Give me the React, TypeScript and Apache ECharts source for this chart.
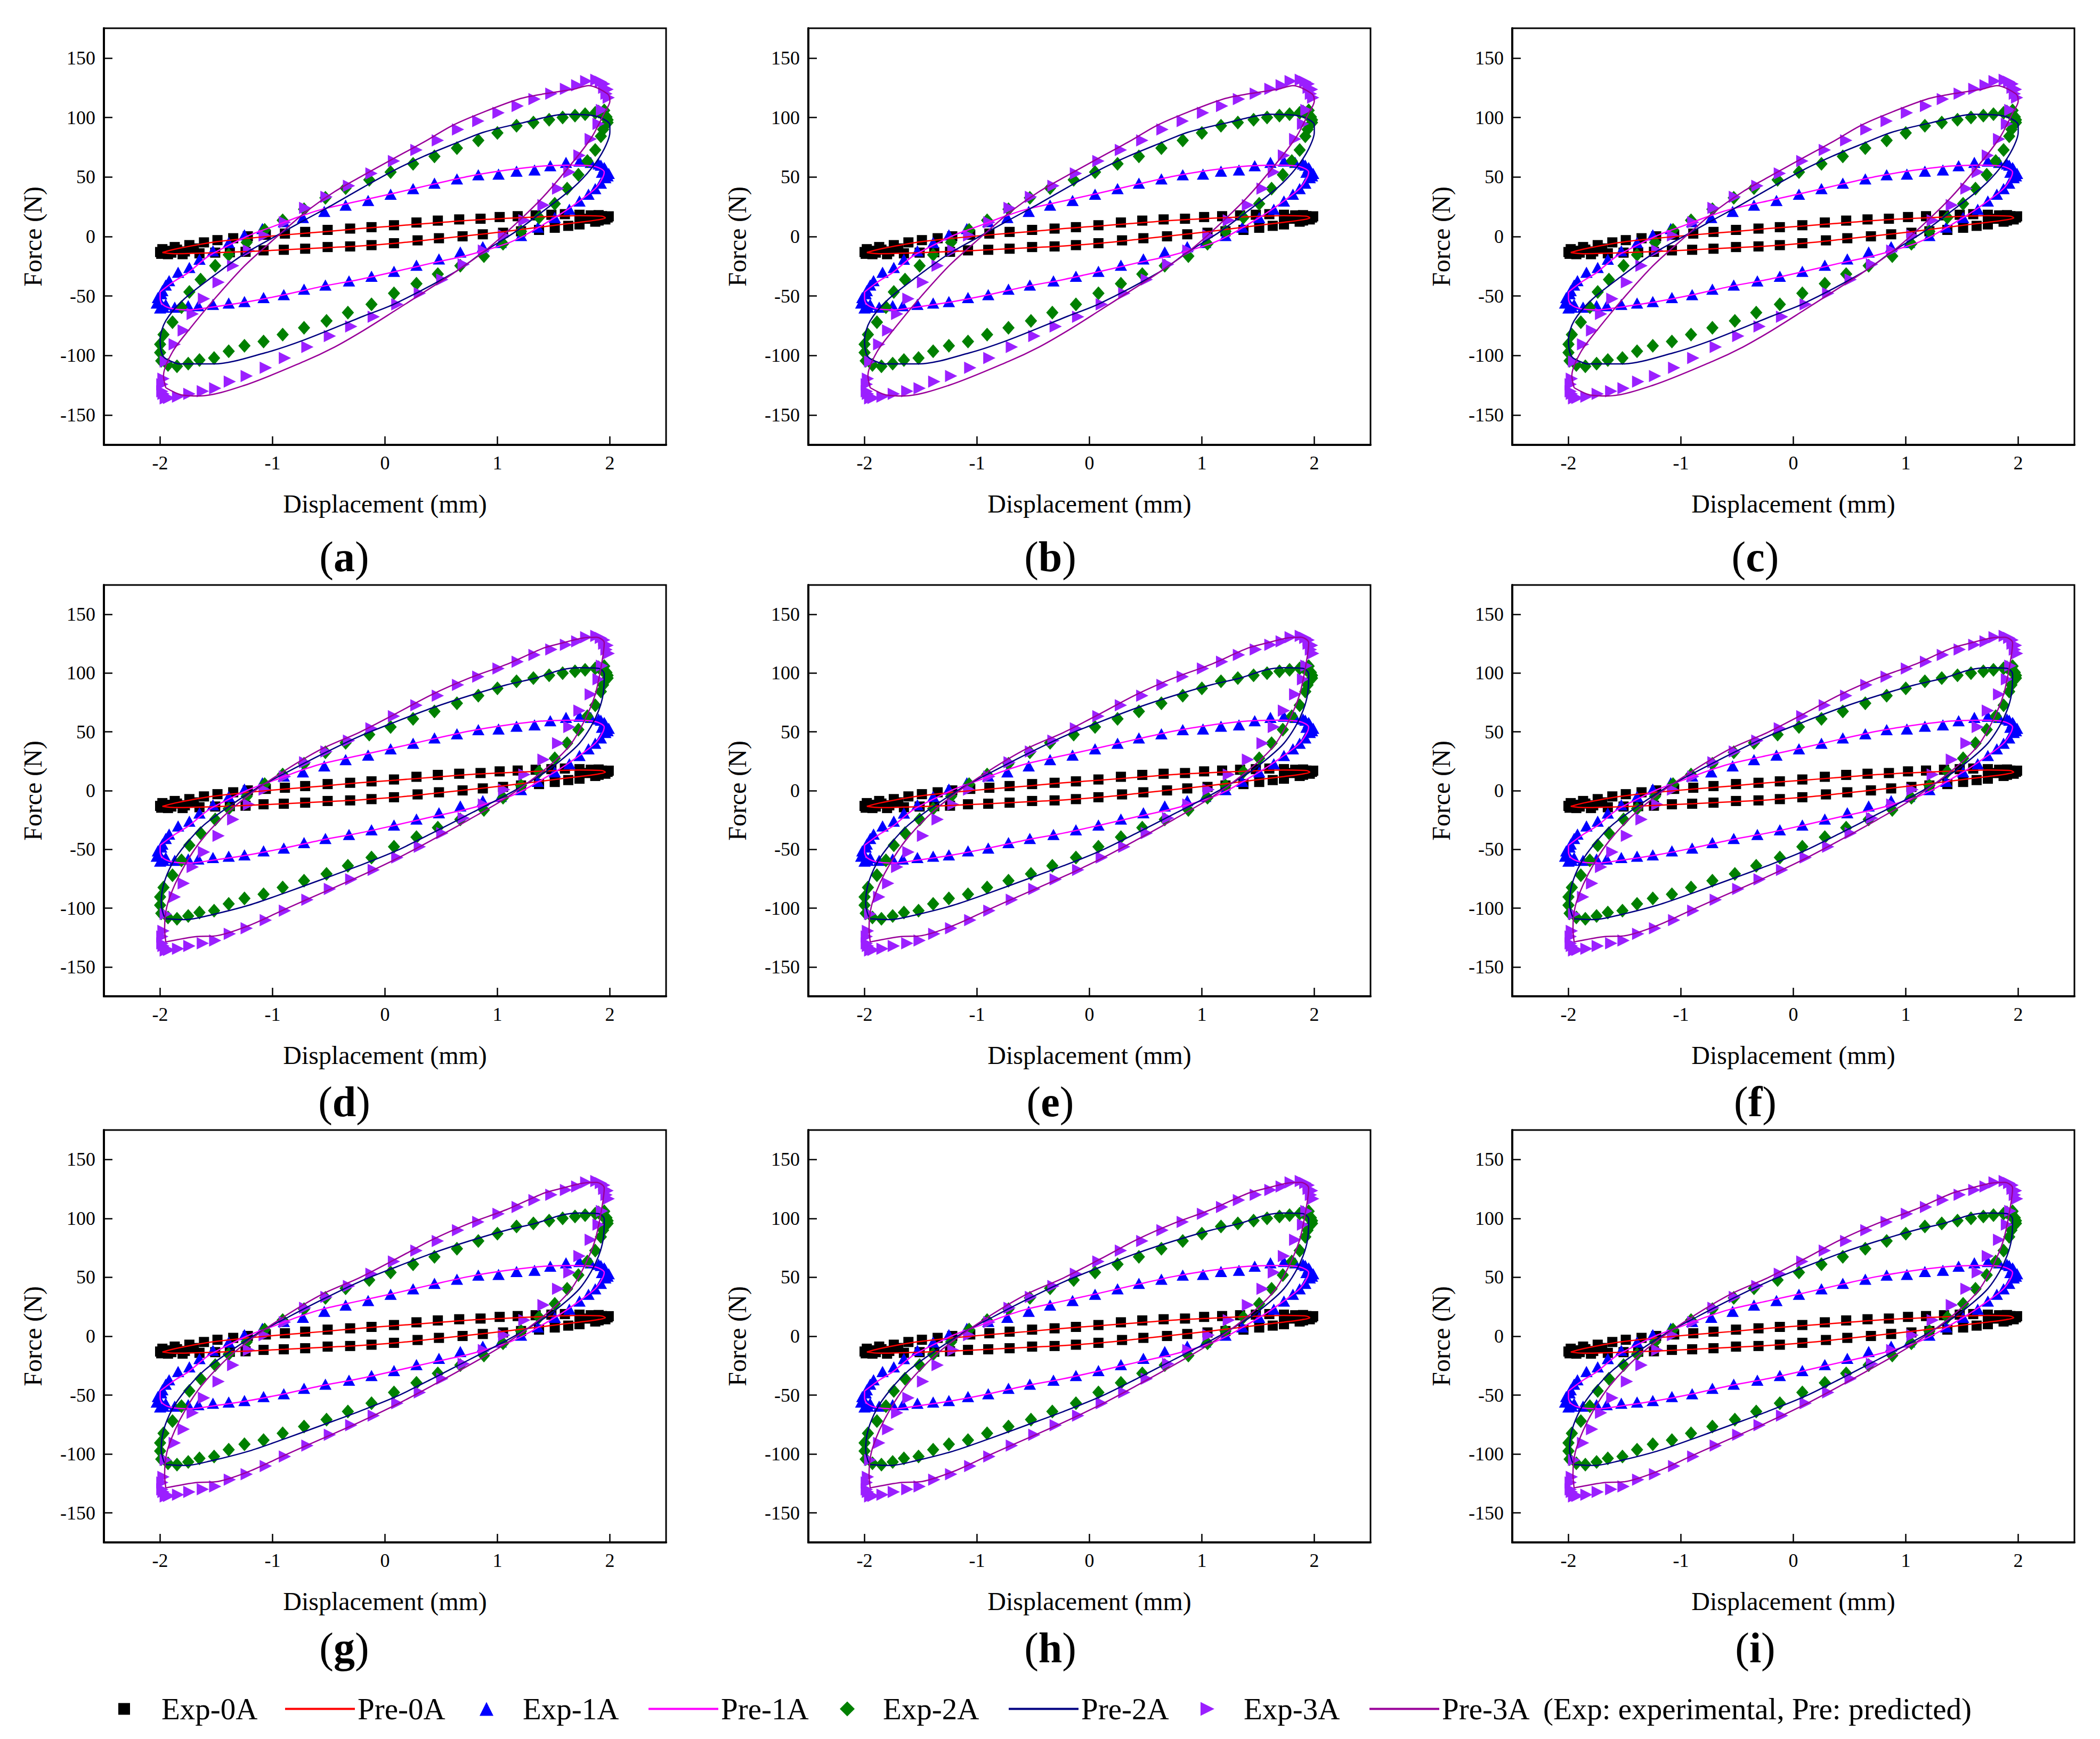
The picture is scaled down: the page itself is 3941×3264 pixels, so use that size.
import React, { useEffect, useRef } from "react";
import * as echarts from "echarts";

const FONT = "'Liberation Serif', 'Times New Roman', serif";

const panelLabels = ["a", "b", "c", "d", "e", "f", "g", "h", "i"];
const xTicks = [-2, -1, 0, 1, 2];
const yTicks = [-150, -100, -50, 0, 50, 100, 150];
const seriesNames = ["Exp-0A", "Pre-0A", "Exp-1A", "Pre-1A", "Exp-2A", "Pre-2A", "Exp-3A", "Pre-3A"];
const legendNote = "(Exp: experimental, Pre: predicted)";

const exp0A = [
  [-2.0, -13], [-1.98, -10.6], [-1.87, -8.8], [-1.74, -7.2], [-1.61, -4.9], [-1.49, -3.0], [-1.35, -1.4],
  [-1.22, 0.2], [-1.06, 1.5], [-0.89, 2.5], [-0.71, 3.9], [-0.51, 5.6], [-0.31, 6.7], [-0.12, 7.9],
  [0.08, 9.5], [0.28, 11.8], [0.47, 13.4], [0.66, 14.4], [0.85, 15.0], [1.02, 16.4], [1.18, 17.1],
  [1.34, 17.8], [1.48, 18.3], [1.6, 18.8], [1.73, 18.3], [1.83, 17.8], [1.93, 17.1], [1.98, 16],
  [1.96, 14.4], [1.87, 12.5], [1.73, 10.2], [1.63, 9.0], [1.51, 7.4], [1.37, 5.6], [1.21, 4.4],
  [1.05, 3.2], [0.87, 1.9], [0.69, 0.2], [0.48, -1.4], [0.29, -3.2], [0.08, -5.6], [-0.12, -7.2],
  [-0.31, -8.3], [-0.51, -8.8], [-0.71, -10.2], [-0.9, -11.1], [-1.08, -11.6], [-1.24, -12.8],
  [-1.38, -13.2], [-1.51, -13.5], [-1.65, -14.1], [-1.8, -14.8], [-1.93, -14.8],
  [-1.95, -12], [-1.9, -13.5], [-1.85, -11], [-1.99, -14.5], [-1.78, -12.5], [-1.7, -10],
  [1.95, 15.5], [1.9, 13.5], [1.9, 18], [1.8, 15], [1.99, 17], [1.85, 16.5],
];

const pre0A = [
  [-1.98, -13.4], [-1.87, -10.6], [-1.54, -4.9], [-1.21, -1.4], [-0.89, 1.4], [-0.56, 3.9], [-0.23, 6.7],
  [0.1, 9.0], [0.42, 11.3], [0.75, 13.7], [1.08, 15.3], [1.41, 16.7], [1.73, 17.6], [1.93, 17.1],
  [1.96, 15.7], [1.87, 13.7], [1.73, 12.0], [1.41, 8.3], [1.08, 4.4], [0.75, 0.9], [0.42, -2.5],
  [0.1, -5.6], [-0.23, -7.9], [-0.56, -9.5], [-0.89, -11.1], [-1.21, -12.5], [-1.54, -13.7],
  [-1.87, -14.4], [-1.98, -13.4],
];

const exp1A = [
  [-2.03, -55.8], [-2.02, -51.2], [-1.98, -45.4], [-1.95, -40.7], [-1.92, -37], [-1.84, -30], [-1.74, -26],
  [-1.65, -19], [-1.53, -12], [-1.39, -5], [-1.25, 1.4], [-1.09, 6.7], [-0.9, 12.5], [-0.73, 16.0],
  [-0.54, 21.1], [-0.35, 26.4], [-0.15, 30.3], [0.05, 35.6], [0.25, 40.3], [0.44, 44.9], [0.64, 48.4],
  [0.83, 51.9], [1.01, 52.5], [1.17, 54.9], [1.33, 56.0], [1.47, 59.5], [1.61, 62.3], [1.73, 63.4],
  [1.83, 62.3], [1.92, 60], [1.96, 56.5], [1.99, 53], [1.96, 49.5], [1.92, 44.9], [1.87, 40.3],
  [1.81, 35.6], [1.73, 29.9], [1.64, 22.9], [1.51, 16.0], [1.36, 7.9], [1.21, 0.9], [1.03, -4.9],
  [0.87, -8.5], [0.67, -13], [0.48, -18.8], [0.28, -24.1], [0.08, -29.2], [-0.12, -33.3], [-0.32, -37.3],
  [-0.53, -40.7], [-0.72, -44.2], [-0.9, -48.8], [-1.08, -51.2], [-1.25, -54.6], [-1.39, -55.8],
  [-1.53, -56.9], [-1.66, -58.1], [-1.75, -58.1], [-1.87, -59.3], [-1.97, -59.3],
  [-2.0, -60], [-1.95, -57], [-1.99, -48], [1.95, 58], [1.98, 51], [1.93, 54], [1.9, 61],
];

const pre1A = [
  [-2.0, -46.5], [-1.87, -37.3], [-1.75, -30.3], [-1.57, -16.4], [-1.41, -8.3], [-1.21, 0.9], [-0.98, 9],
  [-0.75, 17.1], [-0.56, 22.9], [-0.23, 29.9], [0.1, 36.8], [0.42, 43.8], [0.75, 50.7], [1.08, 55.8],
  [1.41, 59.3], [1.7, 60], [1.87, 58.8], [1.95, 54.2], [1.93, 48.4], [1.87, 40.3], [1.73, 29.9],
  [1.57, 19.4], [1.41, 10.2], [1.24, 0.9], [1.08, -6.0], [0.75, -15.3], [0.42, -22.2], [0.1, -29.2],
  [-0.23, -36.1], [-0.56, -41.9], [-0.89, -48.8], [-1.21, -54.6], [-1.54, -59.3], [-1.74, -61.6],
  [-1.9, -60.4], [-1.98, -56.9], [-2.0, -52.3], [-2.0, -46.5],
];

const exp2A = [
  [-2.0, -97.5], [-2.0, -90.5], [-1.97, -82.4], [-1.89, -72], [-1.81, -59.3], [-1.74, -46.5], [-1.64, -36.1],
  [-1.51, -24.5], [-1.39, -15.3], [-1.23, -4.9], [-1.07, 5.6], [-0.91, 13.7], [-0.72, 22.9], [-0.53, 32.6],
  [-0.35, 40.7], [-0.14, 47.7], [0.05, 54.2], [0.25, 61.1], [0.44, 67.4], [0.64, 74.3], [0.83, 80.8],
  [1.0, 87.0], [1.17, 93.1], [1.32, 95.8], [1.46, 98.1], [1.58, 100], [1.69, 101.6], [1.78, 102.8],
  [1.87, 104], [1.93, 102.8], [1.97, 100.5], [1.98, 95.8], [1.94, 90], [1.92, 84.3], [1.87, 72.7],
  [1.8, 63.4], [1.72, 51.9], [1.62, 40.3], [1.51, 27.5], [1.37, 16], [1.21, 4.4], [1.05, -6.0],
  [0.88, -16.4], [0.67, -24.5], [0.47, -31.5], [0.28, -39.6], [0.08, -47.7], [-0.12, -56.9],
  [-0.33, -63.9], [-0.52, -70.8], [-0.72, -76.6], [-0.91, -82.4], [-1.08, -88.2], [-1.25, -91.7],
  [-1.39, -96.3], [-1.52, -102.1], [-1.65, -103.7], [-1.75, -106.7], [-1.85, -109], [-1.93, -107.9],
  [-1.99, -104.4], [1.95, 106], [1.98, 98], [1.9, 105],
];

// Pre-2A as drawn in panels (d)-(i)
const pre2A = [
  [-1.95, -109], [-1.77, -109.7], [-1.54, -105.6], [-1.21, -97.5], [-0.89, -87], [-0.56, -75.5],
  [-0.23, -63.9], [0.1, -51.2], [0.42, -36.1], [0.75, -19.9], [1.08, -3.7], [1.41, 14.8], [1.6, 28.7],
  [1.73, 40.3], [1.83, 54.2], [1.9, 68.1], [1.94, 81.9], [1.95, 99.3], [1.9, 104], [1.73, 104.6],
  [1.57, 102.8], [1.34, 95.8], [1.08, 90], [0.75, 80.8], [0.42, 70.4], [0.1, 58.8], [-0.23, 46.1],
  [-0.56, 31], [-0.89, 14.8], [-1.12, 3.2], [-1.38, -13], [-1.61, -29.2], [-1.77, -45.4], [-1.89, -61.6],
  [-1.97, -80.1], [-1.99, -96.3], [-1.97, -105.6], [-1.95, -109],
];

// Pre-2A as drawn in panels (a)-(c)
const pre2ATop = [
  [-1.84, -107], [-1.52, -107], [-1.07, -97.8], [-0.72, -86.9], [-0.19, -66.8], [0.08, -56.8],
  [0.61, -30.5], [0.88, -12.7], [1.15, 3.4], [1.41, 21.6], [1.68, 41.6], [1.84, 57.7], [1.95, 73.7],
  [2.0, 87.7], [2.0, 93.8], [1.87, 101.3], [1.61, 102.7], [1.23, 95.7], [0.88, 87.7], [0.61, 77.7],
  [0.35, 67.6], [0.08, 55.6], [-0.19, 41.6], [-0.45, 27.5], [-0.72, 13.6], [-0.99, -0.6], [-1.25, -14.5],
  [-1.52, -32.7], [-1.79, -52.8], [-1.95, -70.8], [-2.0, -86.6], [-1.97, -100.9], [-1.84, -107],
];

const exp3A = [
  [-1.98, -124.1], [-1.97, -119.4], [-1.95, -105], [-1.87, -90.5], [-1.79, -78.9], [-1.71, -65],
  [-1.61, -52.3], [-1.48, -38.4], [-1.35, -24.5], [-1.21, -11.8], [-1.07, 0.9], [-0.89, 12.0],
  [-0.71, 24.1], [-0.52, 33.3], [-0.32, 42.6], [-0.12, 53], [0.08, 63.4], [0.28, 72.7], [0.47, 80.8],
  [0.65, 90], [0.83, 97], [1.01, 103.9], [1.18, 109.7], [1.33, 115.5], [1.48, 120.1], [1.61, 124.1],
  [1.71, 127.1], [1.79, 130.6], [1.88, 131.7], [1.95, 128.2], [1.98, 123.6], [1.99, 116.7],
  [1.93, 106.3], [1.9, 94.7], [1.83, 81.9], [1.73, 68.1], [1.64, 54.2], [1.54, 40.3], [1.41, 26.4],
  [1.24, 13.7], [1.06, 0.9], [0.88, -11.8], [0.7, -23.4], [0.51, -36.1], [0.31, -47.7], [0.11, -56.9],
  [-0.1, -67.4], [-0.3, -75.5], [-0.49, -83.6], [-0.69, -92.8], [-0.89, -102.1], [-1.06, -110.2],
  [-1.23, -117.1], [-1.38, -121.8], [-1.51, -127.5], [-1.62, -129.9], [-1.74, -132.2], [-1.84, -134.5],
  [-1.92, -135.6], [-1.97, -132.2], [-1.98, -130], [-1.95, -136], [1.95, 125], [1.97, 120], [1.92, 130],
];

// Pre-3A as drawn in panels (d)-(i)
const pre3A = [
  [-1.95, -128.7], [-1.67, -124.1], [-1.51, -123.6], [-1.21, -114.8], [-0.89, -100.9], [-0.56, -87],
  [-0.23, -73.1], [0.1, -58.1], [0.42, -41.9], [0.75, -24.5], [1.08, -6.0], [1.41, 17.1], [1.64, 38],
  [1.77, 58.8], [1.87, 81.9], [1.93, 109.7], [1.95, 125.9], [1.88, 130.6], [1.76, 129.9], [1.57, 125.5],
  [1.41, 121.3], [1.08, 107.4], [0.75, 95.8], [0.42, 81.9], [0.1, 65.7], [-0.23, 49.5], [-0.56, 35.6],
  [-0.89, 17.1], [-1.21, -3.7], [-1.44, -22.2], [-1.64, -43], [-1.77, -61.6], [-1.87, -80.1],
  [-1.94, -98.6], [-1.96, -117.1], [-1.95, -128.7],
];

// Pre-3A as drawn in panels (a)-(c)
const pre3ATop = [
  [-1.95, -127], [-1.81, -133], [-1.65, -133.9], [-1.25, -125], [-0.72, -104.9], [-0.45, -92.9],
  [-0.19, -78.8], [0.08, -62.8], [0.35, -46.5], [0.61, -30.7], [0.88, -12.7], [1.15, 9.6], [1.41, 33.6],
  [1.68, 63.6], [1.84, 83.7], [1.95, 103.7], [2.0, 113.8], [1.98, 119.8], [1.81, 126.8], [1.68, 123.8],
  [1.41, 119.8], [1.2, 115.8], [0.88, 104.7], [0.61, 93.8], [0.35, 79.6], [0.08, 65.7], [-0.19, 51.6],
  [-0.45, 37.6], [-0.72, 19.5], [-0.99, -2.5], [-1.25, -24.7], [-1.52, -52.8], [-1.73, -76.8],
  [-1.89, -96.9], [-1.97, -116.9], [-1.95, -127],
];

const expData = [exp0A, exp1A, exp2A, exp3A];
const preDataTop = [pre0A, pre1A, pre2ATop, pre3ATop];
const preData = [pre0A, pre1A, pre2A, pre3A];
const expColors = ["#000000", "#0000ff", "#008000", "#9b1fff"];
const preColors = ["#ff0000", "#ff00ff", "#000080", "#990099"];
const expSymbols = ["rect", "triangle", "diamond", "triangle"];
const expSizes: any[] = [19, [23, 21], [23, 26], [23, 23]];
const expRotate = [0, 0, 0, -90];
const legendIcons: (string | undefined)[] = [undefined, undefined, undefined, "path://M0,0L1,0.5L0,1Z"];

// layout
const colLeft = [195, 1517, 2838];
const rowTop = [53, 1098, 2121];
const rowHeight = [782, 772, 774];
const gridWidth = 1055;
const labelX = [646, 1971, 3294];
const labelY = [1045, 2068, 3093];
const legendLeft = [222, 535, 900, 1217, 1576, 1893, 2253, 2570];
const legendIconSize = [22, 26, 28, 26];

export default function App() {
  const ref = useRef<HTMLDivElement>(null);
  useEffect(() => {
    if (!ref.current) return;
    const chart = echarts.init(ref.current, null, { renderer: "svg" });
    const grids: any[] = [];
    const xAxes: any[] = [];
    const yAxes: any[] = [];
    const series: any[] = [];
    const graphics: any[] = [];
    for (let g = 0; g < 9; g++) {
      const r = Math.floor(g / 3);
      const c = g % 3;
      grids.push({
        left: colLeft[c],
        top: rowTop[r],
        width: gridWidth,
        height: rowHeight[r],
        show: true,
        borderColor: "#000",
        borderWidth: 3,
        backgroundColor: "transparent",
      });
      xAxes.push({
        gridIndex: g,
        type: "value",
        min: -2.5,
        max: 2.5,
        interval: 0.5,
        axisLine: { show: true, onZero: false, lineStyle: { color: "#000", width: 4 } },
        axisTick: { show: true, inside: true, length: 16, lineStyle: { color: "#000", width: 2.5 }, customValues: xTicks },
        axisLabel: { show: true, customValues: xTicks, fontSize: 36, fontFamily: FONT, color: "#000", margin: 16 },
        splitLine: { show: false },
        name: "Displacement (mm)",
        nameLocation: "middle",
        nameGap: 86,
        nameTextStyle: { fontSize: 48, fontFamily: FONT, color: "#000" },
      });
      yAxes.push({
        gridIndex: g,
        type: "value",
        min: -175,
        max: 175,
        interval: 25,
        axisLine: { show: true, onZero: false, lineStyle: { color: "#000", width: 4 } },
        axisTick: { show: true, inside: true, length: 16, lineStyle: { color: "#000", width: 2.5 }, customValues: yTicks },
        axisLabel: { show: true, customValues: yTicks, fontSize: 36, fontFamily: FONT, color: "#000", margin: 16 },
        splitLine: { show: false },
        name: "Force (N)",
        nameLocation: "middle",
        nameGap: 110,
        nameTextStyle: { fontSize: 48, fontFamily: FONT, color: "#000" },
      });
      const pres = r === 0 ? preDataTop : preData;
      for (let k = 0; k < 4; k++) {
        series.push({
          type: "scatter",
          name: seriesNames[k * 2],
          xAxisIndex: g,
          yAxisIndex: g,
          data: expData[k],
          symbol: expSymbols[k],
          symbolSize: expSizes[k],
          symbolRotate: expRotate[k],
          itemStyle: { color: expColors[k], opacity: 1 },
          z: 2,
        });
        series.push({
          type: "line",
          name: seriesNames[k * 2 + 1],
          xAxisIndex: g,
          yAxisIndex: g,
          data: pres[k],
          symbol: "none",
          showSymbol: false,
          smooth: 0.3,
          lineStyle: { color: preColors[k], width: 2.5 },
          itemStyle: { color: preColors[k] },
          z: 3,
        });
      }
      graphics.push({
        type: "text",
        x: labelX[c],
        y: labelY[r],
        style: {
          text: "{p|(}{b|" + panelLabels[g] + "}{p|)}",
          align: "center",
          verticalAlign: "middle",
          rich: {
            p: { fontSize: 80, fontFamily: FONT, fill: "#000" },
            b: { fontSize: 80, fontFamily: FONT, fontWeight: "bold", fill: "#000" },
          },
        },
      });
    }
    const legends = seriesNames.map((n, i) => {
      const isPre = i % 2 === 1;
      const k = Math.floor(i / 2);
      const item: any = { name: n };
      if (isPre) item.icon = "rect";
      else if (legendIcons[k]) item.icon = legendIcons[k];
      return {
        data: [item],
        left: legendLeft[i],
        top: 3179,
        padding: 0,
        itemWidth: isPre ? 131 : legendIconSize[k],
        itemHeight: isPre ? 4 : legendIconSize[k],
        itemGap: 0,
        selectedMode: false,
        textStyle: {
          fontSize: 57,
          fontFamily: FONT,
          color: "#000",
          padding: isPre ? 0 : [0, 0, 0, 76 - legendIconSize[k]],
        },
        formatter: i === 7 ? (name: string) => name + "  " + legendNote : undefined,
      };
    });
    chart.setOption({
      animation: false,
      backgroundColor: "#fff",
      grid: grids,
      xAxis: xAxes,
      yAxis: yAxes,
      series,
      legend: legends,
      graphic: graphics,
    });
    return () => chart.dispose();
  }, []);
  return <div ref={ref} style={{ position: "absolute", left: 0, top: 0, width: 3941, height: 3264 }} />;
}
